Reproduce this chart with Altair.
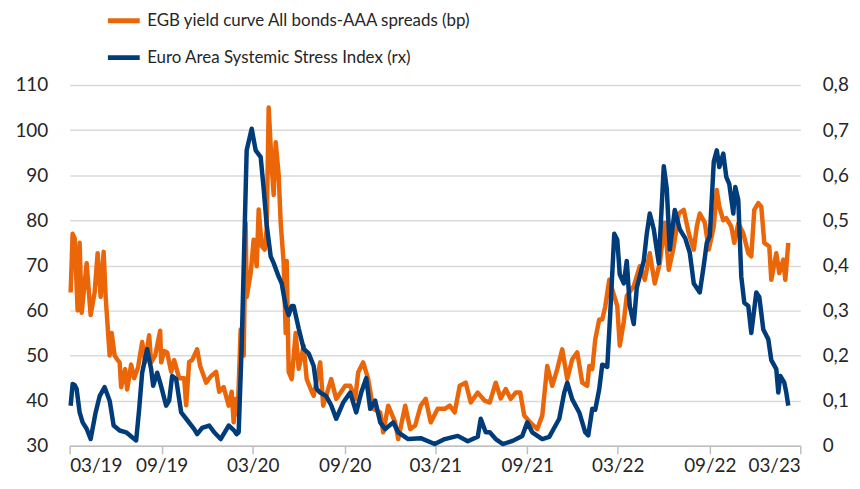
import altair as alt
import pandas as pd

egb_label = "EGB yield curve All bonds-AAA spreads (bp)"
stress_label = "Euro Area Systemic Stress Index (rx)"

egb_dates = [
    "2019-03-03", "2019-03-07", "2019-03-11", "2019-03-17", "2019-03-21", "2019-03-25", "2019-03-31",
    "2019-04-04", "2019-04-12", "2019-04-20", "2019-04-26", "2019-05-02", "2019-05-08", "2019-05-12",
    "2019-05-20", "2019-05-24", "2019-05-30", "2019-06-05", "2019-06-09", "2019-06-12", "2019-06-20",
    "2019-06-24", "2019-07-02", "2019-07-08", "2019-07-16", "2019-07-24", "2019-07-30", "2019-08-07",
    "2019-08-11", "2019-08-19", "2019-08-29", "2019-08-31", "2019-09-06", "2019-09-12", "2019-09-20",
    "2019-09-26", "2019-10-06", "2019-10-16", "2019-10-20", "2019-10-26", "2019-11-01", "2019-11-11",
    "2019-11-17", "2019-11-29", "2019-12-09", "2019-12-19", "2019-12-25", "2020-01-03", "2020-01-13",
    "2020-01-19", "2020-01-23", "2020-01-27", "2020-01-31", "2020-02-06", "2020-02-12", "2020-02-16",
    "2020-02-18", "2020-02-26", "2020-03-03", "2020-03-09", "2020-03-13", "2020-03-19", "2020-03-25",
    "2020-03-29", "2020-04-02", "2020-04-08", "2020-04-12", "2020-04-16", "2020-04-22", "2020-04-26",
    "2020-05-02", "2020-05-06", "2020-05-08", "2020-05-12", "2020-05-18", "2020-05-26", "2020-06-01",
    "2020-06-11", "2020-06-17", "2020-06-25", "2020-07-01", "2020-07-14", "2020-07-20", "2020-08-05",
    "2020-08-15", "2020-09-02", "2020-09-12", "2020-09-22", "2020-09-28", "2020-10-08", "2020-10-18",
    "2020-10-28", "2020-11-11", "2020-11-17", "2020-11-27", "2020-12-11", "2020-12-17", "2020-12-31",
    "2021-01-10", "2021-01-20", "2021-01-31", "2021-02-10", "2021-02-20", "2021-03-06", "2021-03-20",
    "2021-03-30", "2021-04-09", "2021-04-19", "2021-05-01", "2021-05-11", "2021-05-25", "2021-06-08",
    "2021-06-18", "2021-06-30", "2021-07-10", "2021-07-20", "2021-07-30", "2021-08-09", "2021-08-18",
    "2021-08-26", "2021-09-07", "2021-09-21", "2021-10-01", "2021-10-11", "2021-10-21", "2021-10-31",
    "2021-11-10", "2021-11-20", "2021-11-30", "2021-12-10", "2021-12-20", "2021-12-30", "2022-01-03",
    "2022-01-09", "2022-01-15", "2022-01-23", "2022-01-29", "2022-02-04", "2022-02-12", "2022-02-22",
    "2022-02-28", "2022-03-05", "2022-03-13", "2022-03-19", "2022-04-02", "2022-04-14", "2022-04-24",
    "2022-05-04", "2022-05-14", "2022-05-24", "2022-06-03", "2022-06-11", "2022-06-21", "2022-07-01",
    "2022-07-11", "2022-07-21", "2022-07-31", "2022-08-06", "2022-08-12", "2022-08-22", "2022-08-30",
    "2022-09-09", "2022-09-15", "2022-09-20", "2022-09-28", "2022-10-04", "2022-10-14", "2022-10-20",
    "2022-10-28", "2022-11-07", "2022-11-17", "2022-11-23", "2022-11-29", "2022-12-07", "2022-12-13",
    "2022-12-19", "2022-12-29", "2023-01-02", "2023-01-12", "2023-01-18", "2023-01-26", "2023-01-30",
    "2023-02-05",
]
egb_values = [
    64, 77, 76, 60, 75, 59.5, 66,
    70.5, 59, 64, 72.7, 63, 73, 63,
    50, 55, 50, 49, 48.5, 43, 47,
    42.5, 48, 45, 47.5, 53, 48.5, 54.5,
    48.5, 50, 55.5, 48.5, 51, 50.7, 46.4,
    49, 45, 45, 39, 48.6, 49, 51.4,
    47.7, 44, 45.5, 46.4, 42, 43, 38.9,
    42, 35.2, 40.4, 37, 55.8, 50, 79.4,
    63, 68.3, 75.7, 69.8, 82.4, 74.3, 73.5,
    78, 105, 92, 85.6, 97.3, 90, 79.4,
    70.5, 55, 71, 46.4, 44.8, 55, 47.1,
    52.2, 44.8, 42.6, 41.1, 48.5, 38.9, 44.8,
    40.4, 43.3, 43.3, 40.4, 46.3, 48.5, 44.8,
    38.2, 37.4, 33, 38.9, 35.2, 31.5, 38.9,
    33.7, 34.5, 38.9, 40.4, 35.2, 38.2, 38.2,
    38.9, 37.4, 43.3, 44, 39.6, 41.8, 40,
    39.6, 44, 40.5, 42.6, 40.4, 41.8, 41.8,
    36.7, 35.2, 33.7, 36.7, 47.7, 43.3, 47,
    51.4, 44.8, 49.2, 50.7, 44, 43.3, 47.7,
    47, 53.6, 58, 58, 60.9, 66.8, 63.2,
    61, 52.2, 57.5, 63.2, 65.4, 69.8, 66.8,
    72.7, 66, 70.5, 79.4, 69, 74.2, 81.5,
    82.3, 77.1, 73.5, 78.6, 81.5, 79.5, 73.5,
    78.6, 86.7, 83, 80, 80.5, 78.6, 75,
    79.3, 77.1, 72.7, 72, 82.3, 83.8, 83,
    75, 74.2, 66.8, 72.7, 68.3, 71.3, 66.8,
    75,
]

stress_dates = [
    "2019-03-03", "2019-03-07", "2019-03-11", "2019-03-15", "2019-03-21", "2019-03-27", "2019-04-04",
    "2019-04-12", "2019-04-22", "2019-04-30", "2019-05-10", "2019-05-20", "2019-05-28", "2019-06-09",
    "2019-06-22", "2019-07-04", "2019-07-12", "2019-07-18", "2019-07-24", "2019-08-03", "2019-08-11",
    "2019-08-15", "2019-08-23", "2019-08-29", "2019-09-10", "2019-09-16", "2019-09-22", "2019-09-30",
    "2019-10-10", "2019-10-20", "2019-11-05", "2019-11-11", "2019-11-21", "2019-12-05", "2019-12-15",
    "2019-12-28", "2020-01-13", "2020-01-23", "2020-01-29", "2020-02-02", "2020-02-08", "2020-02-18",
    "2020-02-28", "2020-03-07", "2020-03-17", "2020-03-23", "2020-03-29", "2020-04-06", "2020-04-12",
    "2020-04-22", "2020-04-28", "2020-05-06", "2020-05-12", "2020-05-18", "2020-05-22", "2020-06-01",
    "2020-06-11", "2020-06-21", "2020-07-01", "2020-07-07", "2020-07-14", "2020-07-26", "2020-08-05",
    "2020-08-15", "2020-08-29", "2020-09-12", "2020-09-24", "2020-10-04", "2020-10-14", "2020-10-22",
    "2020-11-01", "2020-11-11", "2020-11-21", "2020-12-07", "2020-12-17", "2021-01-06", "2021-01-31",
    "2021-02-28", "2021-03-20", "2021-04-15", "2021-05-05", "2021-05-25", "2021-05-31", "2021-06-10",
    "2021-06-18", "2021-06-30", "2021-07-14", "2021-08-03", "2021-08-22", "2021-09-01", "2021-09-11",
    "2021-10-01", "2021-10-15", "2021-11-04", "2021-11-14", "2021-11-20", "2021-11-30", "2021-12-14",
    "2021-12-26", "2022-01-01", "2022-01-09", "2022-01-15", "2022-01-23", "2022-01-29", "2022-02-08",
    "2022-02-14", "2022-02-22", "2022-02-28", "2022-03-05", "2022-03-13", "2022-03-19", "2022-03-25",
    "2022-04-02", "2022-04-08", "2022-04-14", "2022-04-22", "2022-04-28", "2022-05-04", "2022-05-12",
    "2022-05-22", "2022-06-01", "2022-06-07", "2022-06-13", "2022-06-23", "2022-07-03", "2022-07-14",
    "2022-07-23", "2022-07-31", "2022-08-12", "2022-08-20", "2022-08-26", "2022-09-01", "2022-09-09",
    "2022-09-15", "2022-09-20", "2022-09-28", "2022-10-04", "2022-10-10", "2022-10-18", "2022-10-22",
    "2022-10-28", "2022-11-03", "2022-11-09", "2022-11-17", "2022-11-23", "2022-12-03", "2022-12-09",
    "2022-12-17", "2022-12-27", "2023-01-02", "2023-01-12", "2023-01-16", "2023-01-20", "2023-01-28",
    "2023-02-01", "2023-02-05",
]
stress_values = [
    0.089, 0.137, 0.135, 0.126, 0.074, 0.052, 0.038,
    0.015, 0.074, 0.11, 0.13, 0.10, 0.045, 0.034,
    0.03, 0.019, 0.012, 0.081, 0.162, 0.214, 0.17,
    0.133, 0.162, 0.14, 0.089, 0.10, 0.155, 0.148,
    0.074, 0.06, 0.037, 0.026, 0.04, 0.045, 0.03,
    0.015, 0.045, 0.035, 0.026, 0.03, 0.221, 0.655,
    0.703, 0.655, 0.64, 0.57, 0.49, 0.42, 0.405,
    0.375, 0.36, 0.31, 0.29, 0.31, 0.31, 0.26,
    0.215, 0.205, 0.177, 0.126, 0.118, 0.11, 0.09,
    0.06, 0.096, 0.118, 0.074, 0.118, 0.15, 0.082,
    0.10, 0.052, 0.037, 0.052, 0.03, 0.015, 0.017,
    0.004, 0.015, 0.022, 0.01, 0.02, 0.06, 0.03,
    0.03, 0.015, 0.004, 0.011, 0.022, 0.052, 0.03,
    0.015, 0.02, 0.06, 0.118, 0.14, 0.103, 0.074,
    0.03, 0.023, 0.082, 0.08, 0.126, 0.18, 0.175,
    0.295, 0.47, 0.457, 0.38, 0.36, 0.41, 0.31,
    0.27, 0.35, 0.376, 0.41, 0.47, 0.515, 0.48,
    0.405, 0.62, 0.57, 0.435, 0.523, 0.48, 0.46,
    0.428, 0.36, 0.34, 0.40, 0.45, 0.465, 0.63,
    0.655, 0.618, 0.648, 0.596, 0.58, 0.515, 0.574,
    0.545, 0.375, 0.317, 0.31, 0.25, 0.34, 0.33,
    0.258, 0.236, 0.19, 0.17, 0.118, 0.155, 0.14,
    0.118, 0.089,
]

left_ticks = [30, 40, 50, 60, 70, 80, 90, 100, 110]
right_ticks = [0, 0.1, 0.2, 0.3, 0.4, 0.5, 0.6, 0.7, 0.8]
x_tick_dates = [(2019, 3), (2019, 9), (2020, 3), (2020, 9), (2021, 3),
                (2021, 9), (2022, 3), (2022, 9), (2023, 3)]

ORANGE = "#EB6608"
BLUE = "#003B7A"
FONT = "Lato"
TEXT = "#262626"

egb_df = pd.DataFrame({"date": egb_dates, "value": egb_values, "series": egb_label})
stress_df = pd.DataFrame({"date": stress_dates, "value": stress_values, "series": stress_label})

x_vals = [alt.DateTime(year=y, month=m, date=1, utc=True) for y, m in x_tick_dates]

x_enc = alt.X(
    "date:T",
    scale=alt.Scale(type="utc", domain=[x_vals[0], x_vals[-1]], nice=False),
    axis=alt.Axis(values=x_vals, format="%m/%y", title=None, grid=False,
                  gridOpacity=0, domainColor="#BFBFBF", domainWidth=1.5,
                  tickColor="#BFBFBF", tickWidth=1.5, tickSize=8, labelPadding=3,
                  labelFontSize=19, labelColor=TEXT, labelFont=FONT),
)

color = alt.Color(
    "series:N",
    scale=alt.Scale(domain=[egb_label, stress_label], range=[ORANGE, BLUE]),
    legend=alt.Legend(orient="none", legendX=36, legendY=-83, title=None,
                      symbolType="stroke", symbolSize=1024, symbolStrokeWidth=5,
                      labelFontSize=17, labelFont=FONT, labelColor=TEXT,
                      labelOffset=5, rowPadding=8, padding=0, labelLimit=600),
)

orange = alt.Chart(egb_df).mark_line(strokeWidth=4.5, strokeJoin="round").encode(
    x=x_enc,
    y=alt.Y("value:Q",
            scale=alt.Scale(domain=[30, 110], nice=False, zero=False),
            axis=alt.Axis(values=left_ticks, title=None, grid=True, gridColor="#D9D9D9",
                          gridWidth=1.5, domain=False, ticks=False, labelPadding=22,
                          labelFontSize=19, labelColor=TEXT, labelFont=FONT)),
    color=color,
)

blue = alt.Chart(stress_df).mark_line(strokeWidth=4.5, strokeJoin="round").encode(
    x=x_enc,
    y=alt.Y("value:Q",
            scale=alt.Scale(domain=[0, 0.8], nice=False),
            axis=alt.Axis(values=right_ticks, title=None, orient="right", grid=False,
                          gridOpacity=0, domain=False, domainOpacity=0, ticks=False,
                          labelPadding=22, labelAlign="left",
                          labelFontSize=19, labelColor=TEXT, labelFont=FONT,
                          labelExpr="datum.value == 0 ? '0' : replace(format(datum.value, '.1f'), '.', ',')")),
    color=color,
)

chart = alt.layer(orange, blue).resolve_scale(y="independent").properties(
    width=735, height=363,
    autosize=alt.AutoSizeParams(type="none"),
    padding={"left": 62, "top": 76, "right": 52, "bottom": 40},
    background="white",
).configure_view(stroke="transparent", strokeWidth=0).configure_axisX(grid=False)

chart.save("out.html", embed_options={"renderer": "svg", "actions": False})
